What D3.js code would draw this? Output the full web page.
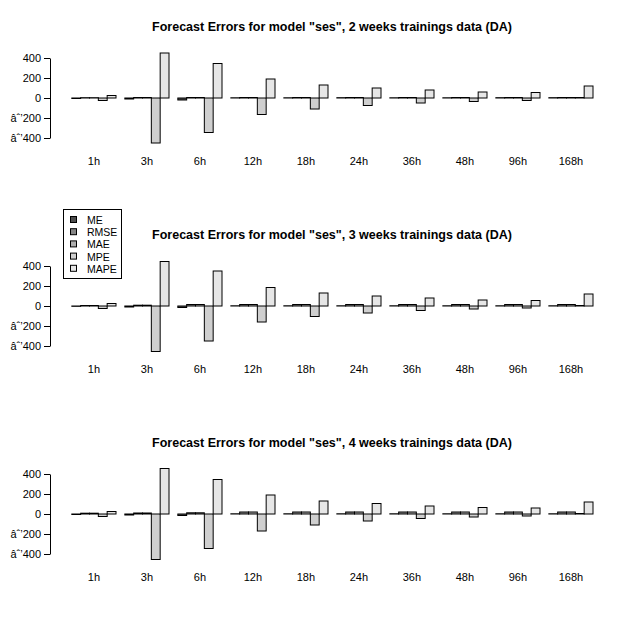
<!DOCTYPE html><html><head><script src="https://cdn.jsdelivr.net/npm/d3@7"></script>
<style>body{margin:0;background:#fff}text{font-family:"Liberation Sans",Arial,sans-serif}</style></head><body>
<script>
const categories=["1h","3h","6h","12h","18h","24h","36h","48h","96h","168h"];
const series=["ME","RMSE","MAE","MPE","MAPE"];
const colors=["#4d4d4d","#858585","#aeaeae","#cfcfcf","#e6e6e6"];
const yTicks=[-400,-200,0,200,400];
const titles=['Forecast Errors for model "ses", 2 weeks trainings data (DA)','Forecast Errors for model "ses", 3 weeks trainings data (DA)','Forecast Errors for model "ses", 4 weeks trainings data (DA)'];
const panel1=[[-5,3,3,-25,25],[-10,5,5,-450,450],[-20,5,5,-345,345],[2,5,5,-165,190],[2,5,5,-110,130],[3,5,5,-75,100],[2,5,5,-50,80],[2,5,5,-35,60],[3,5,5,-25,55],[3,5,5,5,120]];
const panel2=[[-3,5,5,-25,25],[-10,8,8,-455,445],[-15,15,15,-350,350],[2,15,15,-160,185],[2,15,15,-105,130],[2,15,15,-70,100],[2,15,15,-45,80],[2,15,15,-30,60],[2,15,15,-20,55],[2,15,15,5,120]];
const panel3=[[-5,8,8,-25,25],[-10,10,10,-455,455],[-15,12,12,-345,345],[2,20,20,-170,190],[2,20,20,-110,130],[2,20,20,-70,105],[2,20,20,-45,80],[2,20,20,-30,65],[2,20,20,-20,60],[2,20,20,5,120]];
const panels=[panel1,panel2,panel3];
const svg=d3.select("body").append("svg").attr("width",640).attr("height",625);
const x=d3.scaleLinear().domain([0,60]).range([63,593]);
panels.forEach((data,p)=>{
  const off=p*208;
  const y=d3.scaleLinear().domain([-400,400]).range([138+off,58+off]);
  const g=svg.append("g");
  g.append("text").attr("x",332).attr("y",31+off).attr("text-anchor","middle").attr("font-weight","bold").attr("font-size",12.5).text(titles[p]);
  const ax=g.append("g").attr("transform","translate(50,0)").call(d3.axisLeft(y).tickValues(yTicks).tickSize(6).tickSizeOuter(0));
  ax.select(".domain").attr("stroke","#000");
  ax.selectAll("text").attr("font-size",11).attr("font-family","Liberation Sans, Arial").attr("fill","#000");
  data.forEach((vals,i)=>{
    vals.forEach((v,j)=>{
      const u=i*6+1+j;
      g.append("rect").attr("x",x(u)).attr("width",x(u+1)-x(u)).attr("y",Math.min(y(v),y(0))).attr("height",Math.abs(y(v)-y(0))).attr("fill",colors[j]).attr("stroke","#000").attr("stroke-width",1);
    });
    g.append("text").attr("x",x(i*6+3.5)).attr("y",165+off).attr("text-anchor","middle").attr("font-size",11).text(categories[i]);
  });
});
const lg=svg.append("g");
lg.append("rect").attr("x",63.5).attr("y",209.5).attr("width",58).attr("height",69).attr("fill","#fff").attr("stroke","#000");
series.forEach((s,j)=>{
  lg.append("rect").attr("x",70.5).attr("y",216.5+j*12.2).attr("width",6).attr("height",6).attr("fill",colors[j]).attr("stroke","#000");
  lg.append("text").attr("x",87).attr("y",224+j*12.2).attr("font-size",10.5).text(s);
});
</script></body></html>
